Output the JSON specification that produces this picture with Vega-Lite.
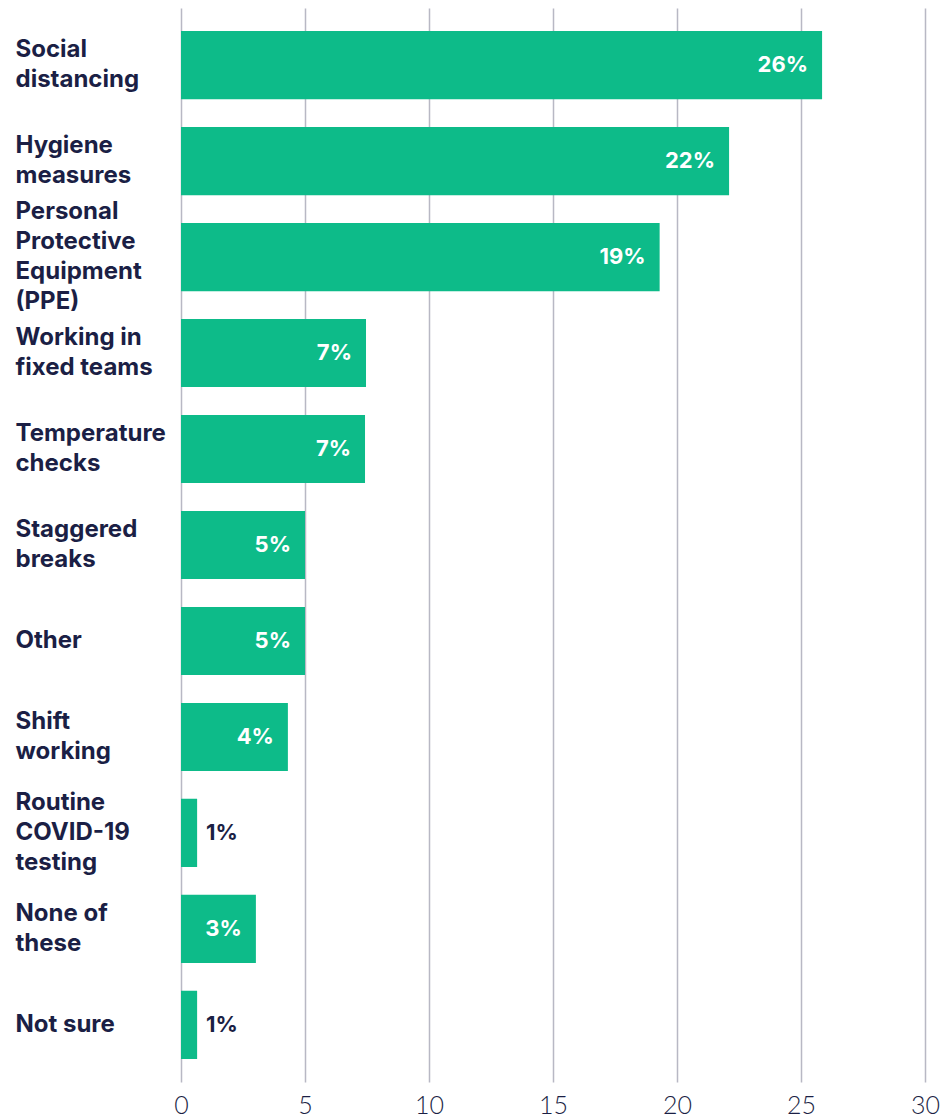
{
  "$schema": "https://vega.github.io/schema/vega-lite/v6.json",
  "width": 744,
  "height": 1074,
  "autosize": {"type": "none"},
  "padding": {"left": 181, "top": 8, "right": 16, "bottom": 37},
  "background": "white",
  "config": {
    "view": {"stroke": null},
    "font": "Inter"
  },
  "data": {
    "values": [
      {"measure": "Social|distancing", "value": 25.85, "label": "26%"},
      {"measure": "Hygiene|measures", "value": 22.1, "label": "22%"},
      {"measure": "Personal|Protective|Equipment|(PPE)", "value": 19.3, "label": "19%"},
      {"measure": "Working in|fixed teams", "value": 7.46, "label": "7%"},
      {"measure": "Temperature|checks", "value": 7.42, "label": "7%"},
      {"measure": "Staggered|breaks", "value": 5.0, "label": "5%"},
      {"measure": "Other", "value": 5.0, "label": "5%"},
      {"measure": "Shift|working", "value": 4.31, "label": "4%"},
      {"measure": "Routine|COVID-19|testing", "value": 0.65, "label": "1%"},
      {"measure": "None of|these", "value": 3.02, "label": "3%"},
      {"measure": "Not sure", "value": 0.65, "label": "1%"}
    ]
  },
  "encoding": {
    "y": {
      "field": "measure",
      "type": "nominal",
      "sort": null,
      "scale": {"paddingInner": 0.29, "paddingOuter": 0.24},
      "axis": {
        "title": null,
        "domain": false,
        "ticks": false,
        "tickSize": 0,
        "grid": false,
        "labelAlign": "left",
        "labelBaseline": "middle",
        "labelPadding": 166,
        "labelLimit": 300,
        "labelFont": "Inter",
        "labelFontSize": 24,
        "labelFontWeight": "bold",
        "labelColor": "#1b1f45",
        "labelLineHeight": 30,
        "labelOffset": {"expr": "-(length(split(datum.value, '|')) - 1) * 15"},
        "labelExpr": "split(datum.label, '|')"
      }
    },
    "x": {
      "field": "value",
      "type": "quantitative",
      "scale": {"domain": [0, 30], "nice": false},
      "axis": {
        "title": null,
        "values": [0, 5, 10, 15, 20, 25, 30],
        "domain": false,
        "ticks": false,
        "grid": true,
        "gridColor": "#b8b8c4",
        "gridWidth": 1.5,
        "labelPadding": 11,
        "labelFont": "Lato",
        "labelFontSize": 25,
        "labelFontWeight": 300,
        "labelColor": "#1b1f45",
        "labelFlush": false
      }
    }
  },
  "layer": [
    {"mark": {"type": "bar", "color": "#0dbb89"}},
    {
      "transform": [{"filter": "datum.value >= 2"}],
      "mark": {"type": "text", "align": "right", "baseline": "middle", "dx": -14, "color": "white", "fontSize": 22, "fontWeight": "bold", "font": "Inter"},
      "encoding": {"text": {"field": "label"}}
    },
    {
      "transform": [{"filter": "datum.value < 2"}],
      "mark": {"type": "text", "align": "left", "baseline": "middle", "dx": 9, "color": "#1b1f45", "fontSize": 22, "fontWeight": "bold", "font": "Inter"},
      "encoding": {"text": {"field": "label"}}
    }
  ]
}
